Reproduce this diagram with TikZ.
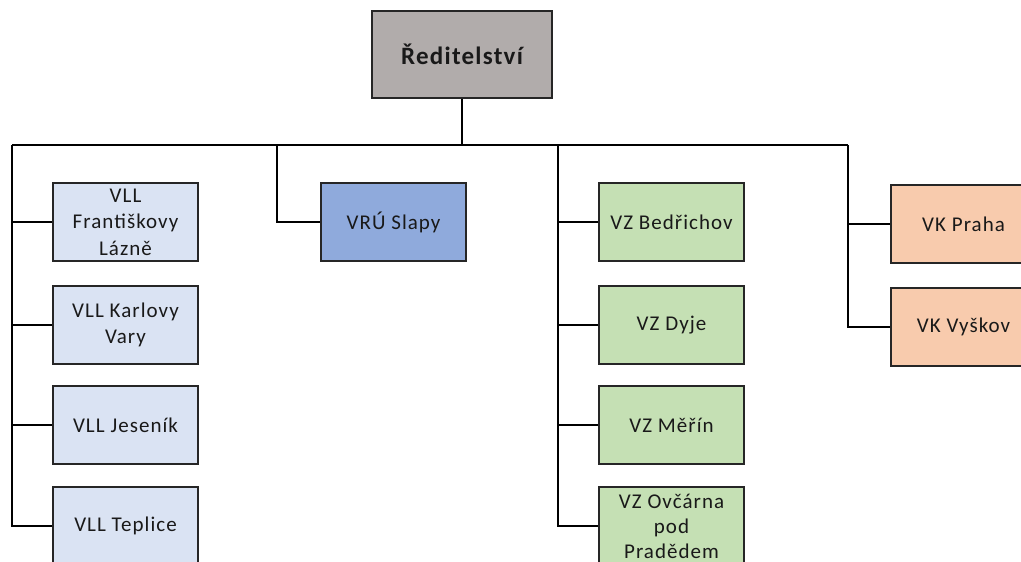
\documentclass[tikz,border=0pt]{standalone}
\usepackage{fontspec}
\setmainfont{Carlito}[LetterSpace=5]
\definecolor{boxgray}{HTML}{B1ACAB}
\definecolor{lblue}{HTML}{DAE3F3}
\definecolor{mblue}{HTML}{8FAADC}
\definecolor{lgreen}{HTML}{C5E0B4}
\definecolor{lorange}{HTML}{F8CBAD}
\definecolor{edge}{HTML}{262626}
\tikzset{
  orgbox/.style={draw=edge, line width=2.1pt, anchor=north west, minimum width=145pt,
    minimum height=78pt, inner sep=0pt, align=center, text=black!90,
    font=\fontsize{21}{26.5}\selectfont},
  blbox/.style={orgbox, fill=lblue},
  vrbox/.style={orgbox, fill=mblue},
  grbox/.style={orgbox, fill=lgreen},
  orbox/.style={orgbox, fill=lorange},
  conn/.style={draw=black, line width=1.9pt}
}
\begin{document}
\begin{tikzpicture}[x=1pt,y=-1pt]
\useasboundingbox (0,0) rectangle (1021,562);
\clip (0,0) rectangle (1021,562);
\node[orgbox, fill=boxgray, minimum width=180pt, minimum height=87pt,
  font=\fontsize{25}{28}\selectfont\bfseries] (top) at (371,10) {Ředitelství};
\node[blbox] (l1) at (52,182) {VLL\\Františkovy\\Lázně};
\node[blbox] (l2) at (52,285) {VLL Karlovy\\Vary};
\node[blbox] (l3) at (52,385) {VLL Jeseník};
\node[blbox] (l4) at (52,486) {VLL Teplice};
\node[vrbox] (v) at (320,182) {VRÚ Slapy};
\node[grbox] (g1) at (598,182) {VZ Bedřichov};
\node[grbox] (g2) at (598,285) {VZ Dyje};
\node[grbox] (g3) at (598,385) {VZ Měřín};
\node[grbox, font=\fontsize{21}{25}\selectfont] (g4) at (598,486) {VZ Ovčárna\\pod\\Pradědem};
\node[orbox] (o1) at (890,184) {VK Praha};
\node[orbox] (o2) at (890,287) {VK Vyškov};
\coordinate (busL) at (12,145);
\coordinate (busV) at (277,145);
\coordinate (busG) at (558,145);
\coordinate (busR) at (848,145);
\draw[conn] (top.south) -- (top.south |- busL);
\draw[conn] (busL) -- (busR);
\draw[conn] (busL) |- (l4.west);
\draw[conn] (l1.west) -- (l1.west -| busL);
\draw[conn] (l2.west) -- (l2.west -| busL);
\draw[conn] (l3.west) -- (l3.west -| busL);
\draw[conn] (busV) |- (v.west);
\draw[conn] (busG) |- (g4.west);
\draw[conn] (g1.west) -- (g1.west -| busG);
\draw[conn] (g2.west) -- (g2.west -| busG);
\draw[conn] (g3.west) -- (g3.west -| busG);
\draw[conn] (busR) |- (o2.west);
\draw[conn] (o1.west) -- (o1.west -| busR);
\end{tikzpicture}
\end{document}
